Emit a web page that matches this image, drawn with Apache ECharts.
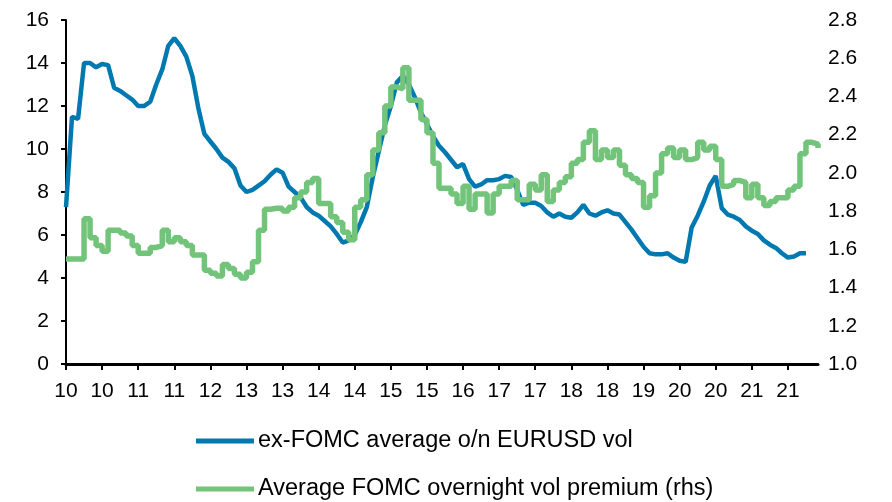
<!DOCTYPE html>
<html>
<head>
<meta charset="utf-8">
<script src="https://cdn.jsdelivr.net/npm/echarts@6/dist/echarts.min.js"></script>
<style>
  html, body { margin: 0; padding: 0; background: #fff; }
  #main { width: 892px; height: 502px; }
</style>
</head>
<body>
<div id="main"></div>
<script>
// year labels on the x axis, one per tick
const tickLabels = ['10', '10', '11', '11', '12', '13', '13', '14', '14', '15', '15',
  '16', '17', '17', '18', '18', '19', '20', '20', '21', '21'];
const perTick = 6;

// ex-FOMC average o/n EURUSD vol (lhs)
const exFomcVol = [
  7.3, 11.5, 11.4, 14.0, 14.0, 13.8, 13.95, 13.9, 12.85, 12.7,
  12.5, 12.3, 12.0, 12.0, 12.2, 13.0, 13.7, 14.8, 15.15, 14.8,
  14.3, 13.4, 11.9, 10.7, 10.35, 10.0, 9.6, 9.4, 9.1, 8.3,
  8.0, 8.1, 8.3, 8.5, 8.8, 9.05, 8.9, 8.25, 8.0, 7.75,
  7.3, 7.05, 6.9, 6.65, 6.4, 6.05, 5.65, 5.75, 6.0, 6.6,
  7.3, 8.7, 9.9, 11.1, 12.0, 13.1, 13.4, 13.0, 12.4, 11.7,
  11.15, 10.6, 10.15, 9.85, 9.5, 9.15, 9.3, 8.6, 8.25, 8.35,
  8.55, 8.55, 8.6, 8.75, 8.7, 8.1, 7.4, 7.5, 7.5, 7.35,
  7.05, 6.85, 7.0, 6.85, 6.8, 7.05, 7.4, 7.0, 6.9, 7.05,
  7.15, 7.0, 6.95, 6.6, 6.25, 5.85, 5.45, 5.15, 5.1, 5.1,
  5.15, 4.95, 4.8, 4.75, 6.35, 6.9, 7.55, 8.3, 8.75, 7.25,
  6.95, 6.85, 6.7, 6.4, 6.2, 6.05, 5.75, 5.55, 5.4, 5.15,
  4.95, 5.0, 5.15, 5.15, null, null
];

// Average FOMC overnight vol premium (rhs)
const fomcPremium = [
  1.55, 1.55, 1.55, 1.76, 1.66, 1.62, 1.59, 1.70, 1.70, 1.685,
  1.67, 1.62, 1.58, 1.58, 1.61, 1.62, 1.70, 1.64, 1.66, 1.64,
  1.62, 1.57, 1.57, 1.49, 1.475, 1.46, 1.52, 1.50, 1.47, 1.45,
  1.48, 1.535, 1.70, 1.81, 1.815, 1.815, 1.80, 1.82, 1.87, 1.90,
  1.95, 1.97, 1.84, 1.84, 1.77, 1.74, 1.69, 1.65, 1.82, 1.86,
  1.99, 2.12, 2.21, 2.35, 2.45, 2.44, 2.55, 2.38, 2.38, 2.28,
  2.21, 2.05, 1.92, 1.92, 1.89, 1.84, 1.93, 1.81, 1.89, 1.89,
  1.79, 1.89, 1.93, 1.93, 1.96, 1.86, 1.86, 1.94, 1.91, 1.99,
  1.85, 1.91, 1.95, 1.98, 2.05, 2.07, 2.16, 2.22, 2.07, 2.12,
  2.08, 2.12, 2.04, 1.99, 1.97, 1.95, 1.82, 1.88, 2.00, 2.10,
  2.13, 2.08, 2.12, 2.07, 2.08, 2.16, 2.12, 2.14, 2.07, 1.93,
  1.94, 1.96, 1.95, 1.87, 1.94, 1.87, 1.83, 1.85, 1.87, 1.87,
  1.91, 1.93, 2.10, 2.16, 2.15, 2.13
];

// one category per data point, labelled with the year of its tick group
const categories = fomcPremium.map((v, i) => tickLabels[Math.floor(i / perTick)] + '#' + i);

const chart = echarts.init(document.getElementById('main'));
const font = 'Liberation Sans, Arial, sans-serif';

chart.setOption({
  animation: false,
  textStyle: { fontFamily: font },
  grid: { left: 66, right: 74, top: 20, bottom: 138 },
  legend: {
    orient: 'vertical',
    left: 196,
    top: 429,
    padding: 0,
    icon: 'rect',
    itemWidth: 58,
    itemHeight: 5,
    itemGap: 24,
    textStyle: { fontFamily: font, fontSize: 23.5, lineHeight: 22, color: '#000', padding: [0, 0, 0, -1] },
    data: ['ex-FOMC average o/n EURUSD vol', 'Average FOMC overnight vol premium (rhs)']
  },
  xAxis: {
    type: 'category',
    boundaryGap: false,
    data: categories,
    axisLine: { lineStyle: { color: '#000', width: 3 } },
    axisTick: { interval: perTick - 1, length: 6, lineStyle: { color: '#000', width: 2 } },
    axisLabel: {
      interval: perTick - 1,
      margin: 17,
      fontSize: 21,
      color: '#000',
      fontFamily: font,
      formatter: v => v.split('#')[0]
    },
    splitLine: { show: false }
  },
  yAxis: [{
    type: 'value',
    min: 0,
    max: 16,
    interval: 2,
    axisLine: { show: true, lineStyle: { color: '#000', width: 2 } },
    axisTick: { show: true, length: 5, lineStyle: { color: '#000', width: 2 } },
    axisLabel: { margin: 17, fontSize: 21, color: '#000', fontFamily: font },
    splitLine: { show: false }
  }, {
    type: 'value',
    min: 1.0,
    max: 2.8,
    interval: 0.2,
    position: 'right',
    axisLine: { show: false },
    axisTick: { show: false },
    axisLabel: {
      margin: 10,
      fontSize: 21,
      color: '#000',
      fontFamily: font,
      formatter: v => v.toFixed(1)
    },
    splitLine: { show: false }
  }],
  series: [{
    name: 'Average FOMC overnight vol premium (rhs)',
    type: 'line',
    yAxisIndex: 1,
    step: 'end',
    data: fomcPremium,
    showSymbol: false,
    lineStyle: { color: '#72C47A', width: 5.5 },
    itemStyle: { color: '#72C47A' },
    z: 2
  }, {
    name: 'ex-FOMC average o/n EURUSD vol',
    type: 'line',
    yAxisIndex: 0,
    data: exFomcVol,
    showSymbol: false,
    lineStyle: { color: '#0079B0', width: 4.5 },
    itemStyle: { color: '#0079B0' },
    z: 1
  }]
});
</script>
</body>
</html>
